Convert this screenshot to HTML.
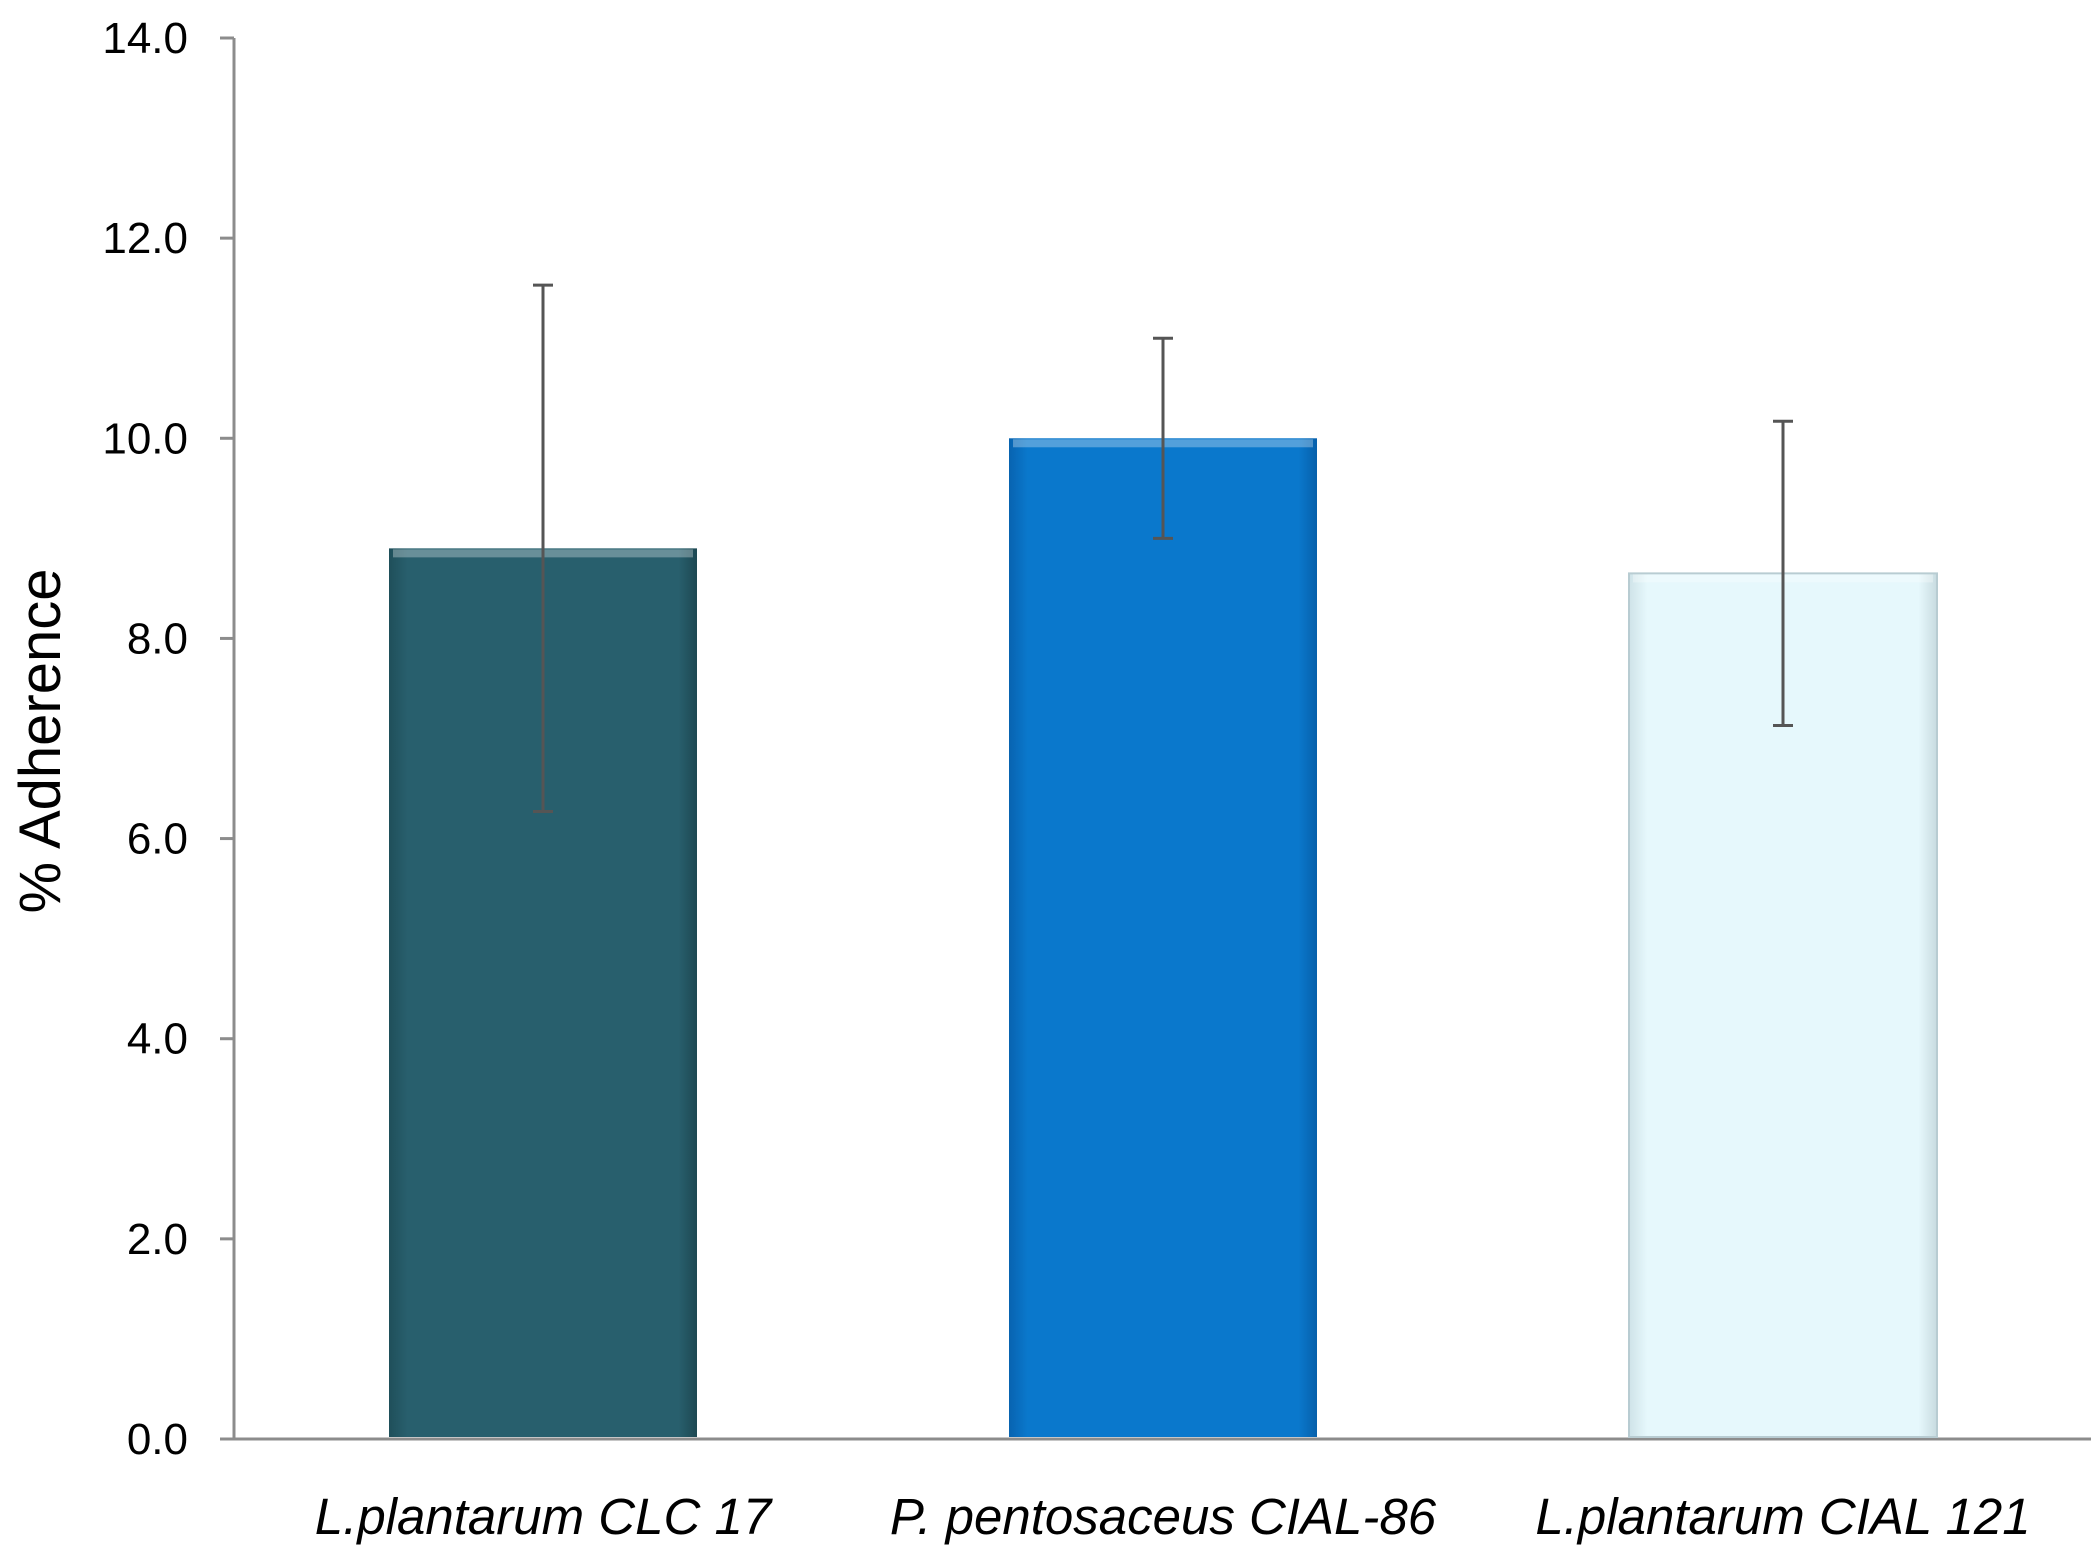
<!DOCTYPE html>
<html><head><meta charset="utf-8"><style>
html,body{margin:0;padding:0;background:#fff;}
svg{display:block;font-family:"Liberation Sans",sans-serif;}
</style></head><body>
<svg id="chart" width="2097" height="1565" viewBox="0 0 2097 1565">
<defs>
<linearGradient id="g0" x1="0" x2="1"><stop offset="0" stop-color="#1f4f5a"/><stop offset="0.06" stop-color="#285f6d"/><stop offset="0.94" stop-color="#285f6d"/><stop offset="1" stop-color="#1d4852"/></linearGradient>
<linearGradient id="g1" x1="0" x2="1"><stop offset="0" stop-color="#0863b0"/><stop offset="0.06" stop-color="#0a78cc"/><stop offset="0.94" stop-color="#0a78cc"/><stop offset="1" stop-color="#0760ab"/></linearGradient>
<linearGradient id="g2" x1="0" x2="1"><stop offset="0" stop-color="#cfe3e8"/><stop offset="0.06" stop-color="#e6f8fc"/><stop offset="0.94" stop-color="#e6f8fc"/><stop offset="1" stop-color="#c8dbe0"/></linearGradient>
</defs>
<g id="axes"></g>
<g id="bars"></g>
<g id="errs"></g>
<text transform="translate(60,741) rotate(-90)" text-anchor="middle" font-size="58" fill="#000">% Adherence</text>
</svg>
<script>
const categories = ["L.plantarum CLC 17", "P. pentosaceus CIAL-86", "L.plantarum CIAL 121"];
const values = [8.9, 10.0, 8.65];
const errors = [2.63, 1.0, 1.52];
const yTicks = [0, 2, 4, 6, 8, 10, 12, 14];
const tickLabels = ["0.0", "2.0", "4.0", "6.0", "8.0", "10.0", "12.0", "14.0"];
const fills = ["url(#g0)", "url(#g1)", "url(#g2)"];

const NS = "http://www.w3.org/2000/svg";
const x0 = 234, x1 = 2091, yBase = 1439, yTop = 38, yMax = 14;
const y = v => yBase - (v / yMax) * (yBase - yTop);
const band = 620, firstCenter = 543, barW = 308;
const xc = i => firstCenter + i * band;
function mk(tag, attrs, parent){ const e=document.createElementNS(NS,tag); for(const k in attrs) e.setAttribute(k,attrs[k]); parent.appendChild(e); return e; }

const axes = document.getElementById("axes");
let ax = mk("line",{x1:x0,y1:yTop,x2:x0,y2:yBase,stroke:"#8c8c8c","stroke-width":3},axes);


let bx = mk("line",{x1:x0-14,y1:yBase,x2:x1,y2:yBase,stroke:"#8c8c8c","stroke-width":3},axes);


yTicks.forEach((t,i)=>{
  const tk = mk("line",{x1:x0-14,y1:y(t),x2:x0,y2:y(t),stroke:"#8c8c8c","stroke-width":3},axes);
  
  
  const tl = mk("text",{x:188,y:y(t)+15,"text-anchor":"end","font-size":44,fill:"#000"},axes);
  tl.textContent = tickLabels[i];
  
  
});
const bars = document.getElementById("bars"), errs = document.getElementById("errs");
categories.forEach((c,i)=>{
  const b = mk("rect",{x:xc(i)-barW/2,y:y(values[i]),width:barW,height:yBase-2-y(values[i]),fill:fills[i],stroke:i==2?"#b8ccd2":"none","stroke-width":2},bars);
  
  
  const hl = mk("rect",{x:xc(i)-barW/2+4,y:y(values[i])+1,width:barW-8,height:8,fill:"#fff",opacity:0.3},bars);
  
  
  const lab = mk("text",{x:xc(i),y:1534,"text-anchor":"middle","font-size":51,"font-style":"italic",fill:"#000"},bars);
  lab.textContent = c;
  
  
  const hi = y(values[i]+errors[i]), lo = y(values[i]-errors[i]);
  const g = mk("g",{stroke:"#555","stroke-width":3},errs);
  
  
  mk("line",{x1:xc(i),y1:hi,x2:xc(i),y2:lo},g);
  mk("line",{x1:xc(i)-10,y1:hi,x2:xc(i)+10,y2:hi},g);
  mk("line",{x1:xc(i)-10,y1:lo,x2:xc(i)+10,y2:lo},g);
});
</script>
</body></html>
